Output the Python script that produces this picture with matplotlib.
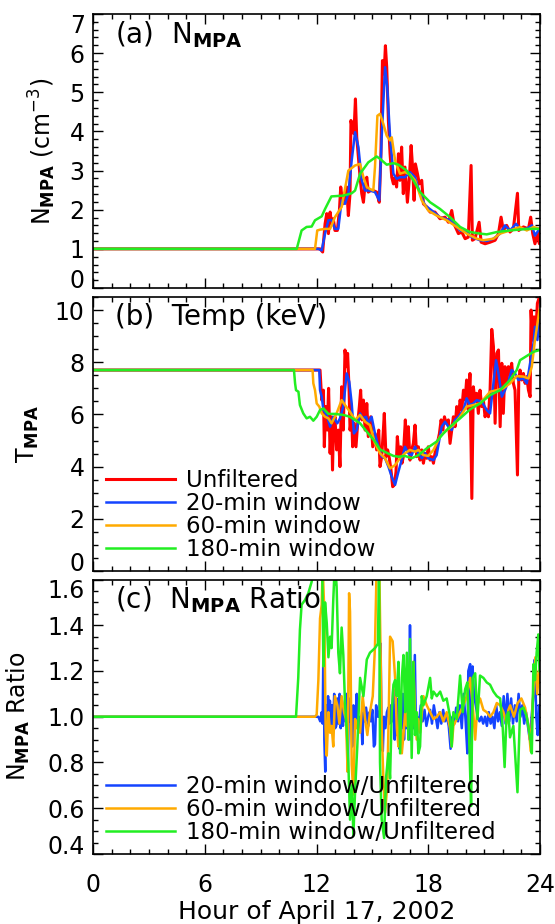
import numpy as np
import matplotlib
matplotlib.use("Agg")
import matplotlib.pyplot as plt
from matplotlib.ticker import MultipleLocator, FormatStrFormatter

# ---------------- data (hour, value) ----------------
red_a = [(0,1.0),(12.19,1.0),(12.33,0.92),(12.46,1.64),(12.55,1.9),(12.64,1.39),(12.73,1.94),(12.81,1.64),
         (12.9,1.77),(12.99,1.47),(13.12,1.47),(13.23,1.98),(13.3,2.58),(13.41,2.15),(13.53,2.32),(13.62,2.58),
         (13.71,1.85),(13.8,2.41),(13.85,4.28),(13.94,4.02),(14.01,3.94),(14.09,4.83),(14.16,3.85),(14.25,3.34),
         (14.34,2.83),(14.43,2.41),(14.52,2.19),(14.61,2.66),(14.7,2.83),(14.78,2.45),(14.91,2.49),(15.05,2.49),
         (15.23,2.45),(15.37,2.19),(15.46,3.43),(15.54,5.81),(15.63,5.47),(15.7,6.19),(15.77,5.64),(15.86,4.28),
         (15.95,3.43),(16.04,2.83),(16.13,2.66),(16.22,2.83),(16.3,2.58),(16.4,3.43),(16.48,2.75),(16.57,3.6),
         (16.66,2.41),(16.75,3.09),(16.88,2.19),(16.99,2.83),(17.08,3.64),(17.17,3.0),(17.24,2.24),(17.31,3.17),
         (17.42,2.92),(17.52,2.66),(17.65,2.75),(17.74,2.15),(17.92,2.07),(18.1,1.94),(18.36,1.94),(18.63,1.77),
         (18.9,1.81),(19.08,1.68),(19.26,1.98),(19.38,1.64),(19.62,1.39),(19.8,1.43),(19.98,1.26),(20.15,1.3),
         (20.3,3.13),(20.37,1.22),(20.51,1.26),(20.73,1.68),(20.84,1.17),(21.05,1.13),(21.32,1.17),(21.59,1.22),
         (21.77,1.39),(21.91,1.81),(22.03,1.47),(22.21,1.6),(22.39,1.43),(22.57,1.51),(22.79,2.42),(22.86,1.47),
         (23.11,1.56),(23.38,1.51),(23.5,1.81),(23.61,1.39),(23.73,1.13),(23.86,1.39),(23.97,1.13),(24.0,1.51)]
blue_a = [(0,1.0),(12.1,1.0),(12.28,0.96),(12.46,1.39),(12.64,1.73),(12.81,1.74),(12.99,1.51),(13.17,1.51),
          (13.35,2.24),(13.53,2.15),(13.71,2.41),(13.89,3.26),(14.07,3.98),(14.25,3.6),(14.43,2.75),(14.61,2.49),
          (14.87,2.49),(15.14,2.45),(15.37,2.24),(15.5,3.85),(15.68,5.64),(15.8,5.13),(15.95,3.85),(16.13,2.92),
          (16.3,2.79),(16.48,2.83),(16.75,2.83),(17.02,2.96),(17.29,2.83),(17.56,2.41),(17.83,2.11),(18.19,1.98),
          (18.63,1.81),(19.17,1.73),(19.44,1.6),(19.71,1.47),(20.06,1.43),(20.33,1.3),(20.78,1.22),(21.14,1.2),
          (21.5,1.26),(21.86,1.39),(22.12,1.6),(22.39,1.47),(22.71,1.64),(22.93,1.51),(23.29,1.51),(23.56,1.6),
          (23.73,1.34),(23.97,1.51)]
orange_a = [(0,1.0),(11.92,1.0),(12.04,1.47),(12.19,1.49),(12.46,1.51),(12.73,1.51),(12.99,1.81),(13.35,2.07),
            (13.71,3.0),(14.07,3.13),(14.34,3.17),(14.52,2.83),(14.7,2.58),(14.87,2.53),(15.05,2.49),(15.14,3.09),
            (15.27,4.4),(15.41,4.45),(15.59,4.19),(15.77,3.89),(15.95,3.77),(16.04,3.85),(16.22,3.26),(16.48,2.92),
            (16.75,2.96),(17.02,2.9),(17.29,2.75),(17.65,2.24),(18.0,1.98),(18.45,1.85),(18.99,1.73),(19.53,1.56),
            (20.06,1.39),(20.6,1.26),(20.96,1.22),(21.5,1.26),(21.86,1.39),(22.39,1.47),(22.93,1.56),(23.29,1.47),
            (23.65,1.56),(23.97,1.51)]
green_a = [(0,1.0),(10.94,1.0),(11.2,1.47),(11.47,1.56),(11.74,1.57),(11.92,1.73),(12.28,1.83),(12.46,2.02),
           (12.8,2.34),(13.44,2.36),(13.89,2.42),(14.07,2.49),(14.34,2.92),(14.78,3.21),(15.23,3.36),(15.41,3.30),
           (15.77,3.15),(16.13,3.19),(16.4,3.15),(16.84,3.0),(17.2,2.75),(17.56,2.45),(18.1,2.19),(18.63,2.02),
           (19.17,1.81),(19.71,1.56),(20.24,1.43),(20.78,1.39),(21.14,1.37),(21.68,1.43),(22.39,1.47),(23.29,1.51),
           (24.0,1.51)]

red_b = [(0,7.7),(12.19,7.7),(12.28,6.55),(12.37,6.93),(12.42,4.76),(12.49,6.3),(12.58,5.4),(12.65,7.0),
         (12.73,4.51),(12.81,5.91),(12.86,3.87),(12.9,5.15),(12.99,5.91),(13.08,4.64),(13.17,5.4),(13.26,4.0),
         (13.35,7.06),(13.44,5.4),(13.53,8.47),(13.62,7.83),(13.67,8.34),(13.75,6.93),(13.8,5.4),(13.89,5.91),
         (13.94,4.76),(14.03,5.66),(14.12,4.76),(14.21,5.66),(14.3,6.3),(14.37,6.93),(14.44,5.79),(14.52,6.55),
         (14.61,5.4),(14.7,6.42),(14.78,5.15),(14.91,5.91),(15.02,4.76),(15.14,5.27),(15.23,4.64),(15.34,5.4),
         (15.41,4.0),(15.5,4.38),(15.59,5.4),(15.64,6.04),(15.73,4.38),(15.82,4.64),(15.91,4.32),(16.0,3.87),
         (16.09,3.23),(16.18,3.3),(16.27,3.81),(16.34,5.15),(16.43,4.38),(16.52,4.76),(16.59,4.13),(16.66,4.38),
         (16.77,5.79),(16.84,4.64),(16.93,5.53),(17.02,4.25),(17.11,4.64),(17.2,4.89),(17.29,5.59),(17.38,4.38),
         (17.47,4.76),(17.56,4.25),(17.65,4.64),(17.74,4.13),(17.83,4.51),(17.92,4.32),(18.0,4.76),(18.1,4.25),
         (18.19,4.38),(18.28,4.13),(18.36,4.51),(18.45,4.76),(18.6,5.27),(18.69,5.79),(18.78,5.4),(18.87,5.91),
         (18.96,5.66),(19.08,5.79),(19.17,4.89),(19.26,5.4),(19.35,5.91),(19.44,5.53),(19.53,6.3),(19.62,5.91),
         (19.71,6.55),(19.8,6.17),(19.89,6.93),(19.98,6.55),(20.06,7.32),(20.15,6.17),(20.24,7.57),(20.34,2.78),
         (20.42,7.06),(20.51,6.55),(20.6,6.81),(20.69,6.04),(20.78,6.93),(20.87,6.3),(20.96,6.55),(21.05,5.91),
         (21.14,6.17),(21.23,5.91),(21.32,6.93),(21.41,9.26),(21.5,8.6),(21.59,5.66),(21.68,8.34),(21.77,8.47),
         (21.86,5.53),(21.95,7.96),(22.03,6.04),(22.12,7.83),(22.21,7.19),(22.3,7.83),(22.39,7.57),(22.48,7.96),
         (22.57,7.19),(22.66,6.93),(22.79,3.68),(22.86,7.32),(22.93,7.7),(23.02,7.32),(23.11,7.57),(23.2,7.19),
         (23.29,7.45),(23.38,6.93),(23.47,6.68),(23.52,10.0),(23.59,8.85),(23.68,9.74),(23.77,9.1),(23.86,10.26),
         (23.97,10.5)]
blue_b = [(0,7.7),(12.15,7.7),(12.19,6.93),(12.28,6.68),(12.37,6.17),(12.55,5.98),(12.73,5.53),(12.9,5.91),
          (13.12,5.66),(13.26,5.85),(13.44,6.3),(13.62,7.57),(13.76,7.25),(13.89,6.42),(14.01,5.27),(14.16,5.4),
          (14.34,6.04),(14.48,5.85),(14.66,5.91),(14.78,5.66),(14.96,5.91),(15.14,5.27),(15.32,4.76),(15.5,4.38),
          (15.68,4.32),(15.86,4.0),(16.04,3.61),(16.22,3.3),(16.4,3.81),(16.57,4.25),(16.75,4.76),(16.93,4.51),
          (17.11,4.44),(17.29,4.76),(17.47,4.51),(17.65,4.32),(17.83,4.51),(18.0,4.32),(18.28,4.25),(18.45,4.44),
          (18.72,5.53),(18.9,5.72),(19.08,5.53),(19.26,5.4),(19.44,5.79),(19.62,5.91),(19.89,6.17),(20.06,6.62),
          (20.24,6.36),(20.42,6.42),(20.6,6.55),(20.87,6.49),(21.14,6.17),(21.32,6.04),(21.5,7.19),(21.64,8.08),
          (21.77,7.57),(21.95,6.68),(22.12,6.93),(22.3,7.25),(22.48,7.7),(22.66,7.57),(22.84,7.32),(23.11,7.38),
          (23.29,7.19),(23.47,7.96),(23.65,8.72),(23.73,9.36),(23.86,8.85),(23.97,9.62)]
orange_b = [(0,7.7),(11.79,7.7),(11.83,7.19),(11.92,6.93),(12.01,6.42),(12.15,6.3),(12.28,6.04),(12.46,5.91),
            (12.64,5.85),(12.81,5.66),(13.08,6.04),(13.35,6.55),(13.53,6.36),(13.8,6.1),(14.07,5.79),(14.34,5.98),
            (14.61,5.72),(14.87,5.59),(15.14,4.89),(15.41,4.51),(15.68,4.32),(15.95,3.93),(16.22,4.06),(16.48,4.32),
            (16.75,4.51),(17.02,4.64),(17.29,4.57),(17.47,4.64),(17.74,4.44),(18.0,4.41),(18.28,4.64),(18.63,5.15),
            (18.99,5.4),(19.35,5.59),(19.71,5.91),(20.06,6.3),(20.42,6.36),(20.78,6.42),(21.32,6.87),(21.68,6.93),
            (22.03,7.0),(22.39,7.19),(22.75,7.47),(23.11,7.45),(23.38,7.38),(23.56,7.83),(23.73,8.85),(23.97,10.0)]
green_b = [(0,7.7),(10.79,7.7),(10.85,7.19),(10.9,6.93),(11.03,6.87),(11.11,6.36),(11.29,6.04),(11.47,5.85),
           (11.65,5.91),(11.83,5.76),(12.01,5.91),(12.19,6.17),(12.37,6.23),(12.64,6.02),(12.99,6.02),(13.44,5.98),
           (13.8,5.91),(14.34,5.66),(14.78,5.27),(15.14,4.96),(15.41,4.66),(15.77,4.53),(16.13,4.41),(16.4,4.38),
           (16.75,4.41),(17.11,4.32),(17.47,4.44),(17.92,4.7),(18.45,4.96),(18.81,5.27),(19.17,5.53),(19.71,5.85),
           (20.24,6.19),(20.78,6.42),(21.32,6.74),(21.86,6.93),(22.39,7.32),(22.75,7.7),(22.93,8.08),(23.38,8.28),
           (23.65,8.4),(24.0,8.47)]

blue_c = [(0,1.0),(12.1,1.0),(12.2,0.98),(12.28,1.02),(12.33,0.97),(12.38,1.38),(12.42,0.9),(12.47,0.76),
          (12.52,1.05),(12.57,0.95),(12.62,1.09),(12.67,0.96),(12.72,1.07),(12.78,0.95),(12.83,1.05),(12.9,0.97),
          (12.95,1.1),(13.0,0.95),(13.06,0.96),(13.12,1.08),(13.18,0.97),(13.24,1.1),(13.3,0.95),(13.36,1.07),
          (13.42,0.96),(13.48,1.05),(13.55,0.98),(13.62,1.1),(13.68,0.76),(13.74,1.08),(13.8,0.98),(13.86,1.0),
          (13.92,0.87),(13.98,1.05),(14.04,0.98),(14.1,1.0),(14.16,1.1),(14.22,0.96),(14.28,1.0),(14.34,0.95),
          (14.4,1.0),(14.46,0.88),(14.52,1.02),(14.6,0.98),(14.66,1.04),(14.72,1.0),(14.78,0.96),(14.85,1.02),
          (14.92,0.98),(15.0,1.03),(15.08,0.87),(15.14,0.88),(15.2,1.05),(15.3,1.0),(15.38,1.0),(15.44,1.32),
          (15.5,0.9),(15.56,0.85),(15.62,1.0),(15.7,0.95),(15.78,1.02),(15.86,1.04),(15.92,0.97),(16.0,1.05),
          (16.06,0.98),(16.12,1.12),(16.2,0.9),(16.26,1.05),(16.32,0.92),(16.4,1.08),(16.46,0.86),(16.52,1.05),
          (16.58,0.95),(16.64,1.1),(16.7,0.9),(16.76,1.05),(16.82,0.95),(16.9,1.02),(16.96,0.9),(17.02,1.4),
          (17.08,0.9),(17.14,1.0),(17.2,0.95),(17.28,1.27),(17.34,0.95),(17.4,1.0),(17.5,0.97),(17.6,1.05),
          (17.7,0.98),(17.8,1.03),(17.9,0.96),(18.0,1.0),(18.1,1.03),(18.2,0.97),(18.3,1.05),(18.4,1.0),
          (18.5,0.95),(18.6,1.02),(18.7,0.97),(18.8,1.03),(18.9,0.98),(19.0,1.0),(19.1,0.96),(19.2,0.86),
          (19.3,1.0),(19.4,0.97),(19.5,1.04),(19.6,0.98),(19.7,1.05),(19.8,0.95),(19.9,1.1),(20.0,0.99),
          (20.1,0.84),(20.15,1.2),(20.25,1.23),(20.3,0.8),(20.38,1.22),(20.45,1.1),(20.55,1.05),(20.65,1.0),
          (20.75,0.98),(20.85,1.0),(20.95,0.97),(21.05,1.0),(21.15,0.96),(21.25,1.02),(21.35,0.97),(21.45,1.0),
          (21.55,0.95),(21.65,1.05),(21.75,0.98),(21.85,1.02),(21.95,0.96),(22.05,1.09),(22.15,0.97),(22.25,1.1),
          (22.35,0.98),(22.45,1.08),(22.55,0.97),(22.65,1.05),(22.75,0.98),(22.85,1.1),(22.95,1.0),(23.05,1.05),
          (23.15,0.97),(23.25,1.02),(23.35,0.96),(23.45,0.9),(23.55,1.0),(23.65,1.1),(23.72,1.25),(23.8,1.0),
          (23.88,0.92),(23.95,1.05),(24.0,0.95)]
orange_c = [(0,1.0),(11.92,1.0),(12.01,1.01),(12.1,1.16),(12.19,1.43),(12.28,1.49),(12.33,1.66),(12.42,1.46),
            (12.49,0.95),(12.55,0.83),(12.64,1.02),(12.73,0.93),(12.81,0.96),(12.9,0.87),(12.99,1.09),(13.12,1.05),
            (13.23,0.97),(13.35,1.09),(13.48,1.02),(13.58,0.99),(13.67,0.76),(13.75,1.54),(13.8,1.46),(13.89,0.79),
            (13.98,0.66),(14.07,0.99),(14.19,0.95),(14.34,0.93),(14.48,1.09),(14.61,0.99),(14.73,0.92),(14.87,1.02),
            (15.02,1.09),(15.14,1.31),(15.23,1.66),(15.37,1.66),(15.5,0.95),(15.59,0.73),(15.68,0.58),(15.8,0.7),
            (15.88,1.02),(15.95,1.35),(16.09,1.33),(16.22,1.17),(16.31,0.95),(16.4,0.87),(16.49,1.05),(16.58,0.84),
            (16.67,0.92),(16.76,1.02),(16.85,0.96),(16.93,1.05),(17.02,0.99),(17.11,0.95),(17.2,1.24),(17.29,1.02),
            (17.38,0.9),(17.47,0.99),(17.56,0.93),(17.74,1.09),(17.92,1.05),(18.1,1.02),(18.28,0.99),(18.46,1.0),
            (18.64,1.02),(18.81,0.98),(18.99,1.02),(19.17,0.95),(19.26,0.87),(19.35,0.96),(19.53,0.99),(19.71,1.02),
            (19.89,1.05),(20.07,1.09),(20.25,1.17),(20.39,1.05),(20.52,0.9),(20.64,1.05),(20.78,1.08),(20.96,1.03),
            (21.14,1.02),(21.32,1.0),(21.5,1.02),(21.68,1.06),(21.86,1.05),(22.04,1.02),(22.2,0.97),(22.3,1.03),
            (22.4,1.05),(22.6,1.0),(22.8,1.06),(23.0,1.08),(23.2,1.04),(23.4,0.95),(23.5,0.85),(23.6,1.05),
            (23.75,1.26),(23.85,1.1),(23.95,1.2),(24.0,1.15)]
green_c = [(0,1.0),(10.9,1.0),(11.02,1.17),(11.11,1.38),(11.2,1.49),(11.38,1.51),(11.56,1.54),(11.74,1.59),
           (11.83,1.66),(12.0,1.75),(12.2,1.8),(12.3,1.7),(12.37,1.22),(12.46,1.5),(12.55,1.41),(12.64,1.26),
           (12.73,1.35),(12.81,1.3),(12.9,1.51),(12.99,1.68),(13.08,1.57),(13.17,1.28),(13.26,1.19),(13.35,1.39),
           (13.44,1.27),(13.53,1.06),(13.62,0.95),(13.71,0.8),(13.8,0.55),(13.9,0.7),(13.98,0.48),(14.07,0.67),
           (14.19,0.87),(14.34,1.17),(14.52,1.09),(14.7,1.25),(14.87,1.28),(15.14,1.3),(15.3,1.32),(15.36,1.68),
           (15.41,0.8),(15.5,0.55),(15.63,0.47),(15.73,0.73),(15.86,0.84),(15.95,0.73),(16.04,1.02),(16.13,1.14),
           (16.22,1.16),(16.31,1.09),(16.4,1.24),(16.49,0.84),(16.58,1.17),(16.67,1.27),(16.76,1.02),(16.85,1.28),
           (16.93,0.9),(17.02,1.34),(17.11,0.82),(17.2,1.24),(17.29,0.92),(17.38,1.02),(17.47,0.84),(17.56,0.87),
           (17.65,1.09),(17.74,1.05),(17.92,1.09),(18.1,1.17),(18.19,1.08),(18.28,1.11),(18.46,1.09),(18.64,1.11),
           (18.81,1.07),(18.99,1.08),(19.17,1.0),(19.26,0.87),(19.35,1.02),(19.53,0.99),(19.71,1.18),(19.85,1.02),
           (19.98,1.12),(20.1,1.15),(20.21,0.87),(20.3,0.61),(20.39,1.17),(20.52,1.19),(20.64,0.99),(20.78,1.18),
           (20.96,1.17),(21.14,1.15),(21.32,1.14),(21.5,1.11),(21.68,1.09),(21.86,1.08),(22.0,0.95),(22.1,0.78),
           (22.2,1.0),(22.3,1.02),(22.39,0.91),(22.57,0.96),(22.79,0.67),(22.93,1.03),(23.11,1.04),(23.29,1.0),
           (23.47,0.91),(23.56,0.84),(23.65,1.23),(23.73,1.16),(23.82,1.28),(23.91,1.36),(23.97,1.2)]

labels_b = ["Unfiltered", "20-min window", "60-min window", "180-min window"]
labels_c = ["20-min window/Unfiltered", "60-min window/Unfiltered", "180-min window/Unfiltered"]
xticks = [0, 6, 12, 18, 24]

RED, BLUE, ORANGE, GREEN = "#ff0000", "#1444ff", "#ffaa00", "#22ee22"
LW = 1.8
FS = 17      # tick labels / axis labels
LFS = 16.5   # legends
TFS = 20     # panel titles

plt.rcParams['font.family'] = ['DejaVu Sans']
plt.rcParams['mathtext.fontset'] = 'dejavusans'

fig = plt.figure(figsize=(5.55, 9.24), dpi=100)
W, H = 555.0, 924.0
L, R = 93, 540
def axbox(top, bot):
    return [L / W, 1 - bot / H, (R - L) / W, (bot - top) / H]

ax_a = fig.add_axes(axbox(14, 288))
ax_b = fig.add_axes(axbox(297, 571))
ax_c = fig.add_axes(axbox(579.5, 854))

def xy(p):
    a = np.array(p, dtype=float)
    return a[:, 0], a[:, 1]

for ser, c in [(red_a, RED), (blue_a, BLUE), (orange_a, ORANGE), (green_a, GREEN)]:
    ax_a.plot(*xy(ser), color=c, lw=LW + (0.4 if c == RED else 0))
hb = []
for ser, c, lab in zip([red_b, blue_b, orange_b, green_b], [RED, BLUE, ORANGE, GREEN], labels_b):
    h, = ax_b.plot(*xy(ser), color=c, lw=LW + (0.4 if c == RED else 0), label=lab)
    hb.append(h)
hc = []
for ser, c, lab in zip([blue_c, orange_c, green_c], [BLUE, ORANGE, GREEN], labels_c):
    h, = ax_c.plot(*xy(ser), color=c, lw=LW, label=lab)
    hc.append(h)

ax_a.set_ylim(0, 7)
ax_b.set_ylim(0, 10.5)
ax_c.set_ylim(0.4, 1.6)
ax_a.yaxis.set_major_locator(MultipleLocator(1)); ax_a.yaxis.set_minor_locator(MultipleLocator(0.2))
ax_b.yaxis.set_major_locator(MultipleLocator(2)); ax_b.yaxis.set_minor_locator(MultipleLocator(0.5))
ax_c.yaxis.set_major_locator(MultipleLocator(0.2)); ax_c.yaxis.set_minor_locator(MultipleLocator(0.05))
ax_c.yaxis.set_major_formatter(FormatStrFormatter('%.1f'))

for ax in (ax_a, ax_b, ax_c):
    ax.set_xlim(0, 24)
    ax.set_xticks(xticks)
    ax.xaxis.set_minor_locator(MultipleLocator(1))
    ax.tick_params(which='both', direction='in', top=True, right=True, width=1.0)
    ax.tick_params(which='major', length=7, labelsize=FS, pad=6)
    ax.tick_params(which='minor', length=3.5)
    for s in ax.spines.values():
        s.set_linewidth(1.2)
ax_a.tick_params(labelbottom=False)
ax_b.tick_params(labelbottom=False)
ax_c.tick_params(axis='x', pad=14)

ax_c.set_xlabel("Hour of April 17, 2002", fontsize=18, labelpad=2)
ax_a.set_ylabel(r"N$_{\mathbf{MPA}}$ (cm$^{-3}$)", fontsize=FS, va='center')
ax_b.set_ylabel(r"T$_{\mathbf{MPA}}$", fontsize=FS, va='center')
ax_c.set_ylabel(r"N$_{\mathbf{MPA}}$ Ratio", fontsize=FS, va='center')
ax_a.yaxis.set_label_coords((42 - L) / (R - L), 0.5)
ax_b.yaxis.set_label_coords((28 - L) / (R - L), 0.5)
ax_c.yaxis.set_label_coords((18 - L) / (R - L), 0.5)

ax_a.text(0.05, (288 - 35) / 274, r"(a)  N$_{\mathbf{MPA}}$", transform=ax_a.transAxes, fontsize=TFS, va='center')
ax_b.text(0.05, (571 - 317) / 274, "(b)  Temp (keV)", transform=ax_b.transAxes, fontsize=TFS, va='center')
ax_c.text(0.05, (854 - 600) / 274.5, r"(c)  N$_{\mathbf{MPA}}$ Ratio", transform=ax_c.transAxes, fontsize=TFS, va='center')

leg_kw = dict(loc='lower left', frameon=False, fontsize=LFS, handlelength=3.0, handletextpad=0.5,
              labelspacing=0.0, borderpad=0.0, borderaxespad=0)
ax_b.legend(handles=hb, bbox_to_anchor=((106 - L) / (R - L), 10 / 274), **leg_kw)
ax_c.legend(handles=hc, bbox_to_anchor=((106 - L) / (R - L), 10 / 274.5), **leg_kw)

# draw once so the ticks exist, then shift end-of-axis labels inward (as in the reference)
fig.canvas.draw()
for ax in (ax_a, ax_b, ax_c):
    lo, hi = ax.get_ylim()
    for tk in ax.yaxis.get_major_ticks():
        loc = tk.get_loc()
        if loc is None:
            continue
        if abs(loc - lo) < 1e-6:
            tk.label1.set_verticalalignment('baseline')
        elif abs(loc - hi) < 1e-6:
            tk.label1.set_verticalalignment('top')
        else:
            tk.label1.set_verticalalignment('center_baseline')

fig.savefig("out.png", dpi=100)
